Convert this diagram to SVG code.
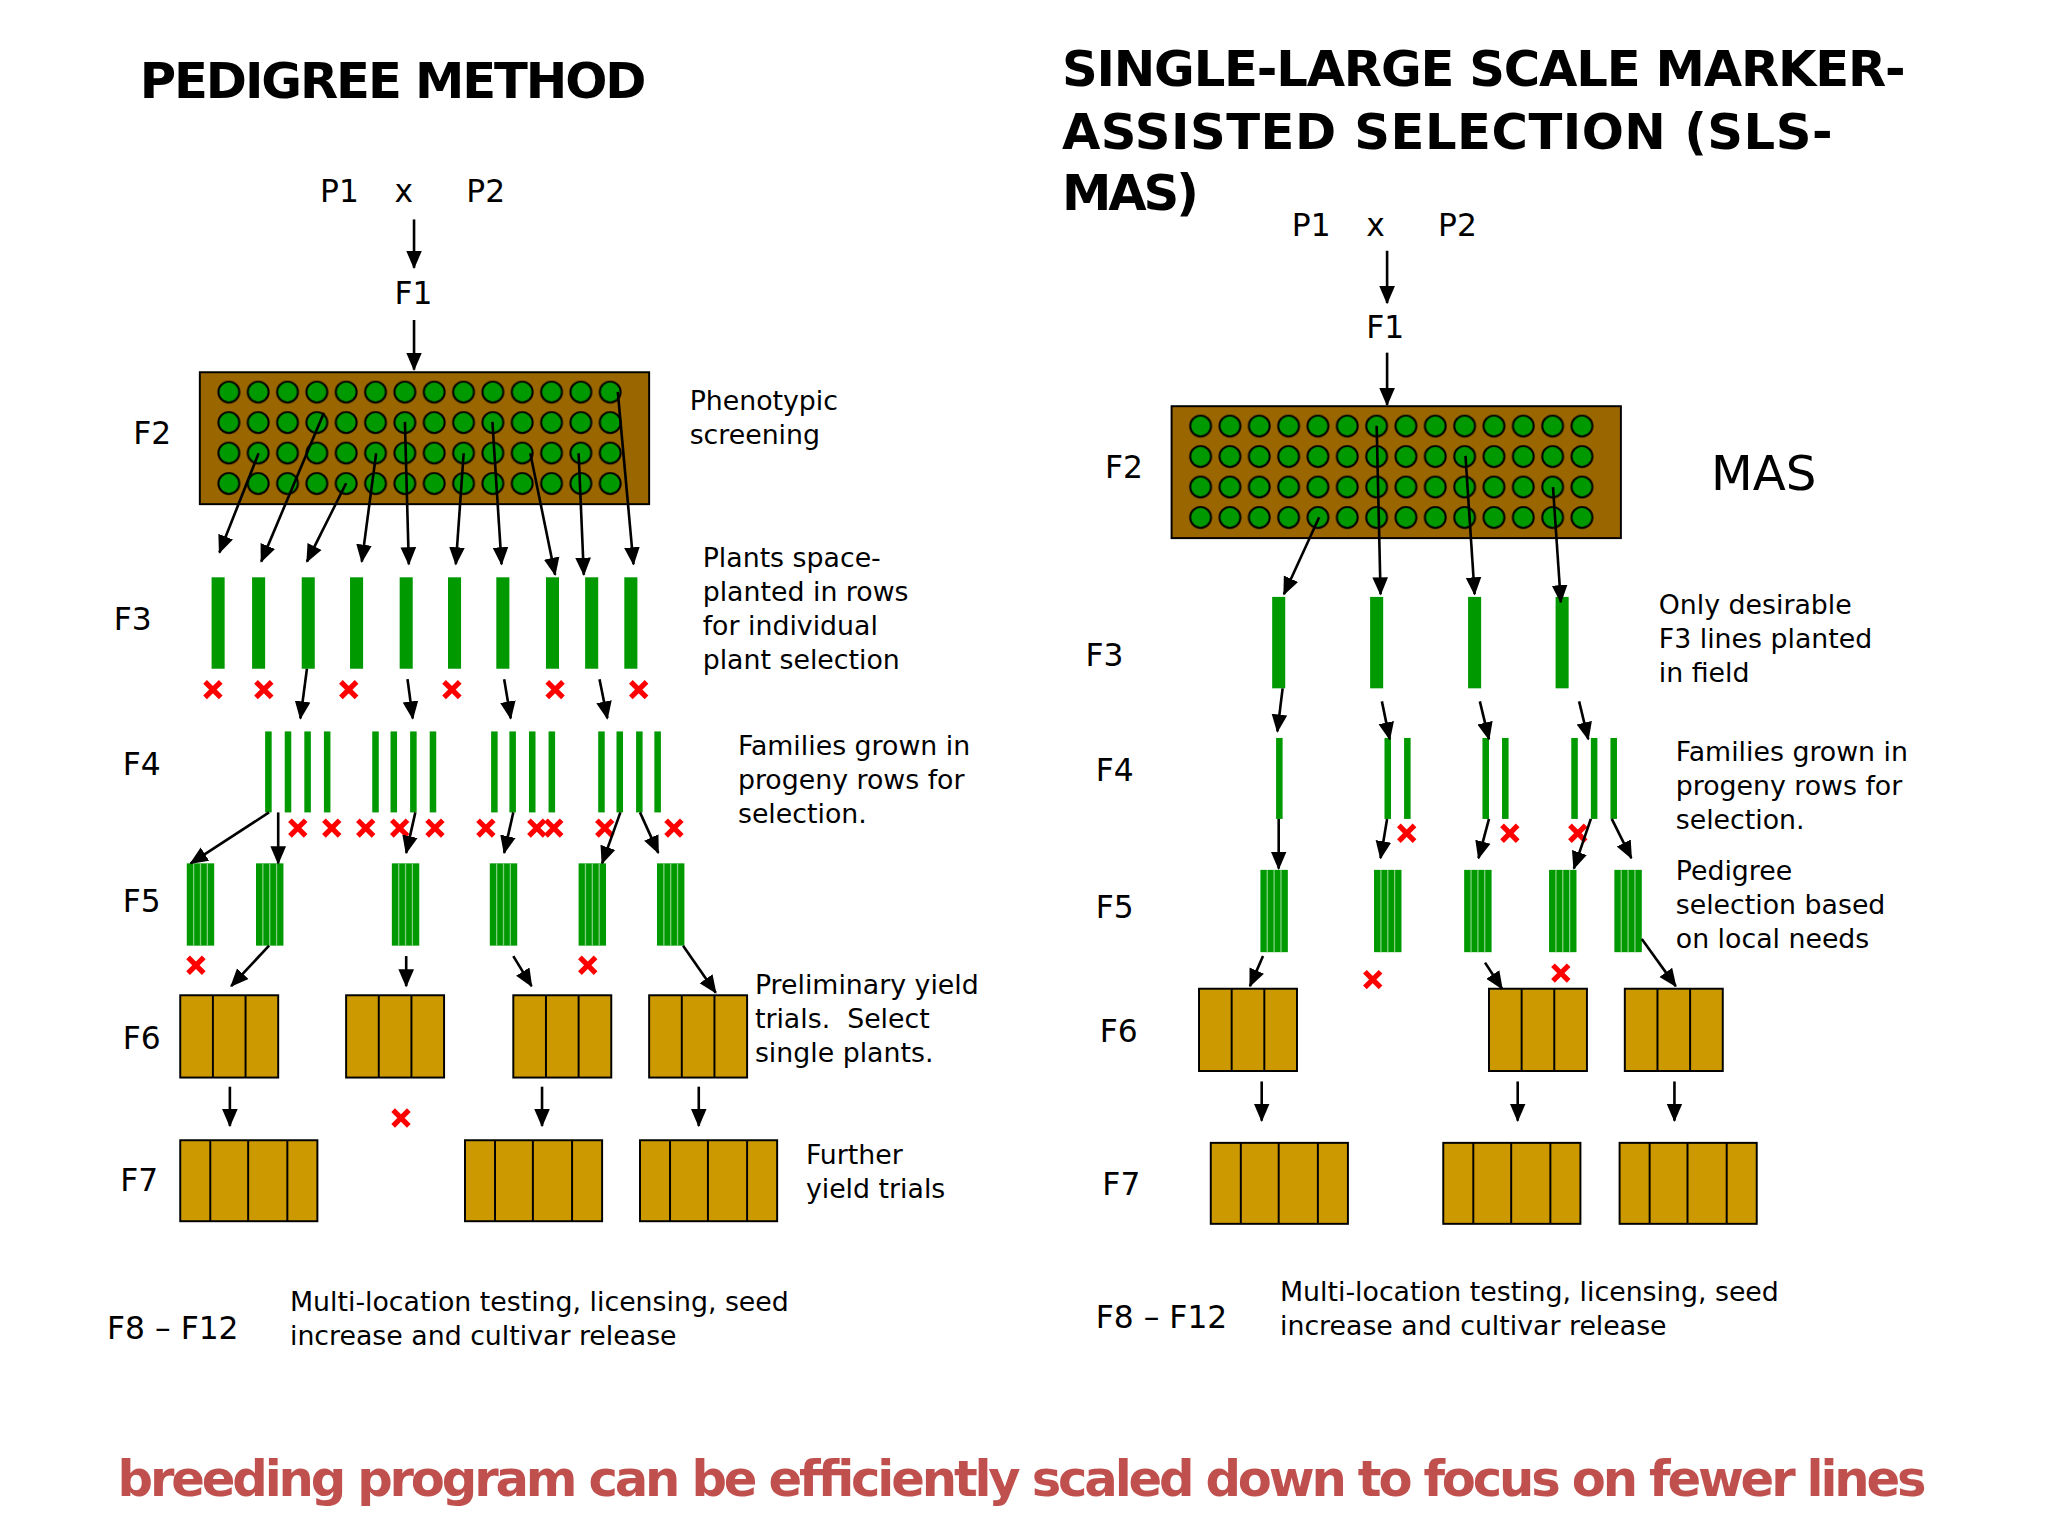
<svg xmlns="http://www.w3.org/2000/svg" width="2048" height="1536" viewBox="0 0 2048 1536">
<style>
text{font-family:"DejaVu Sans","Liberation Sans",sans-serif;fill:#000}
.t{font-size:38px;font-weight:bold}
.g{font-size:24px}
.d{font-size:20.5px}
.a{stroke:#000;stroke-width:2;fill:none;marker-end:url(#ah)}
.bar{fill:#009900}
</style>
<defs>
<marker id="ah" markerUnits="userSpaceOnUse" markerWidth="14" markerHeight="14" refX="13" refY="7" orient="auto"><path d="M0,1 L14,7 L0,13 Z" fill="#000"/></marker>
<pattern id="dotsL" patternUnits="userSpaceOnUse" x="164" y="288.5" width="22.46" height="23.33"><circle cx="11.23" cy="11.67" r="8" fill="#009900" stroke="#000" stroke-width="1.5"/></pattern>
<pattern id="dotsR" patternUnits="userSpaceOnUse" x="908" y="314.5" width="22.46" height="23.33"><circle cx="11.23" cy="11.67" r="8" fill="#009900" stroke="#000" stroke-width="1.5"/></pattern>
<g id="x"><path d="M-6,-6 L6,6 M-6,6 L6,-6" stroke="#ff0000" stroke-width="4"/></g>
<g id="f5"><rect width="21" height="63" fill="#009900"/><path d="M5.25,0V63M10.5,0V63M15.75,0V63" stroke="#7fcf7f" stroke-width="1"/></g>
<g id="f6"><rect width="75" height="63" fill="#CC9900" stroke="#000" stroke-width="1.5"/><path d="M25,0V63M50,0V63" stroke="#000" stroke-width="1.5"/></g>
<g id="f7"><rect width="105" height="62" fill="#CC9900" stroke="#000" stroke-width="1.5"/><path d="M23,0V62M52,0V62M82,0V62" stroke="#000" stroke-width="1.5"/></g>
</defs>
<rect width="2048" height="1536" fill="#fff"/>
<g transform="scale(1.30612)">
<!-- LEFT -->
<g id="left-title"><text class="t" x="107" y="75" textLength="388">PEDIGREE METHOD</text></g>
<g id="left-parents" class="g"><text x="245" y="155">P1</text><text x="302" y="155">x</text><text x="357" y="155">P2</text><text x="302" y="233">F1</text></g>
<g id="left-gen" class="g"><text x="102" y="340">F2</text><text x="87" y="482">F3</text><text x="94" y="593">F4</text><text x="94" y="698">F5</text><text x="94" y="803">F6</text><text x="92" y="912">F7</text><text x="82" y="1025">F8 – F12</text></g>
<g id="left-f2"><rect x="153" y="285" width="344" height="101" fill="#996600" stroke="#000" stroke-width="1.5"/><rect x="164" y="288.5" width="315" height="93.5" fill="url(#dotsL)"/></g>
<g id="left-f3">
<rect class="bar" x="162" y="442" width="10" height="70"/><rect class="bar" x="193" y="442" width="10" height="70"/><rect class="bar" x="231" y="442" width="10" height="70"/><rect class="bar" x="268" y="442" width="10" height="70"/><rect class="bar" x="306" y="442" width="10" height="70"/><rect class="bar" x="343" y="442" width="10" height="70"/><rect class="bar" x="380" y="442" width="10" height="70"/><rect class="bar" x="418" y="442" width="10" height="70"/><rect class="bar" x="448" y="442" width="10" height="70"/><rect class="bar" x="478" y="442" width="10" height="70"/>
<use href="#x" x="163" y="528"/><use href="#x" x="202" y="528"/><use href="#x" x="267" y="528"/><use href="#x" x="346" y="528"/><use href="#x" x="425" y="528"/><use href="#x" x="489" y="528"/>
</g>
<g id="left-f4">
<rect class="bar" x="203" y="560" width="5" height="62"/><rect class="bar" x="218" y="560" width="5" height="62"/><rect class="bar" x="233" y="560" width="5" height="62"/><rect class="bar" x="248" y="560" width="5" height="62"/>
<rect class="bar" x="285" y="560" width="5" height="62"/><rect class="bar" x="299" y="560" width="5" height="62"/><rect class="bar" x="314" y="560" width="5" height="62"/><rect class="bar" x="329" y="560" width="5" height="62"/>
<rect class="bar" x="376" y="560" width="5" height="62"/><rect class="bar" x="390" y="560" width="5" height="62"/><rect class="bar" x="405" y="560" width="5" height="62"/><rect class="bar" x="420" y="560" width="5" height="62"/>
<rect class="bar" x="458" y="560" width="5" height="62"/><rect class="bar" x="472" y="560" width="5" height="62"/><rect class="bar" x="487" y="560" width="5" height="62"/><rect class="bar" x="501" y="560" width="5" height="62"/>
<use href="#x" x="228" y="634"/><use href="#x" x="254" y="634"/><use href="#x" x="280" y="634"/><use href="#x" x="306" y="634"/><use href="#x" x="333" y="634"/><use href="#x" x="372" y="634"/><use href="#x" x="411" y="634"/><use href="#x" x="424" y="634"/><use href="#x" x="463" y="634"/><use href="#x" x="516" y="634"/>
</g>
<g id="left-f5"><use href="#f5" x="143" y="661"/><use href="#f5" x="196" y="661"/><use href="#f5" x="300" y="661"/><use href="#f5" x="375" y="661"/><use href="#f5" x="443" y="661"/><use href="#f5" x="503" y="661"/><use href="#x" x="150" y="739"/><use href="#x" x="450" y="739"/></g>
<g id="left-f6"><use href="#f6" x="138" y="762"/><use href="#f6" x="265" y="762"/><use href="#f6" x="393" y="762"/><use href="#f6" x="497" y="762"/><use href="#x" x="307" y="856"/></g>
<g id="left-f7"><use href="#f7" x="138" y="873"/><use href="#f7" x="356" y="873"/><use href="#f7" x="490" y="873"/></g>
<g id="left-notes" class="d">
<text x="528" y="314">Phenotypic</text><text x="528" y="340">screening</text>
<text x="538" y="434">Plants space-</text><text x="538" y="460">planted in rows</text><text x="538" y="486">for individual</text><text x="538" y="512">plant selection</text>
<text x="565" y="578">Families grown in</text><text x="565" y="604">progeny rows for</text><text x="565" y="630">selection.</text>
<text x="578" y="761">Preliminary yield</text><text x="578" y="787" xml:space="preserve">trials.  Select</text><text x="578" y="813">single plants.</text>
<text x="617" y="891">Further</text><text x="617" y="917">yield trials</text>
<text x="222" y="1004">Multi-location testing, licensing, seed</text><text x="222" y="1030">increase and cultivar release</text>
</g>
<!-- RIGHT -->
<g id="right-title" class="t"><text x="813" y="66" textLength="646">SINGLE-LARGE SCALE MARKER-</text><text x="813" y="114" textLength="590">ASSISTED SELECTION (SLS-</text><text x="813" y="161" textLength="105">MAS)</text></g>
<g id="right-parents" class="g"><text x="989" y="181">P1</text><text x="1046" y="181">x</text><text x="1101" y="181">P2</text><text x="1046" y="259">F1</text></g>
<g id="right-gen" class="g"><text x="846" y="366">F2</text><text x="831" y="510">F3</text><text x="839" y="598">F4</text><text x="839" y="703">F5</text><text x="842" y="798">F6</text><text x="844" y="915">F7</text><text x="839" y="1017">F8 – F12</text></g>
<g id="right-f2"><rect x="897" y="311" width="344" height="101" fill="#996600" stroke="#000" stroke-width="1.5"/><rect x="908" y="314.5" width="315" height="93.5" fill="url(#dotsR)"/><text x="1310" y="375" style="font-size:37px">MAS</text></g>
<g id="right-f3"><rect class="bar" x="974" y="457" width="10" height="70"/><rect class="bar" x="1049" y="457" width="10" height="70"/><rect class="bar" x="1124" y="457" width="10" height="70"/><rect class="bar" x="1191" y="457" width="10" height="70"/></g>
<g id="right-f4">
<rect class="bar" x="977" y="565" width="5" height="62"/>
<rect class="bar" x="1060" y="565" width="5" height="62"/><rect class="bar" x="1075" y="565" width="5" height="62"/>
<rect class="bar" x="1135" y="565" width="5" height="62"/><rect class="bar" x="1150" y="565" width="5" height="62"/>
<rect class="bar" x="1203" y="565" width="5" height="62"/><rect class="bar" x="1218" y="565" width="5" height="62"/><rect class="bar" x="1233" y="565" width="5" height="62"/>
<use href="#x" x="1077" y="638"/><use href="#x" x="1156" y="638"/><use href="#x" x="1208" y="638"/>
</g>
<g id="right-f5"><use href="#f5" x="965" y="666"/><use href="#f5" x="1052" y="666"/><use href="#f5" x="1121" y="666"/><use href="#f5" x="1186" y="666"/><use href="#f5" x="1236" y="666"/><use href="#x" x="1051" y="750"/><use href="#x" x="1195" y="745"/></g>
<g id="right-f6"><use href="#f6" x="918" y="757"/><use href="#f6" x="1140" y="757"/><use href="#f6" x="1244" y="757"/></g>
<g id="right-f7"><use href="#f7" x="927" y="875"/><use href="#f7" x="1105" y="875"/><use href="#f7" x="1240" y="875"/></g>
<g id="right-notes" class="d">
<text x="1270" y="470">Only desirable</text><text x="1270" y="496">F3 lines planted</text><text x="1270" y="522">in field</text>
<text x="1283" y="583">Families grown in</text><text x="1283" y="609">progeny rows for</text><text x="1283" y="635">selection.</text>
<text x="1283" y="674">Pedigree</text><text x="1283" y="700">selection based</text><text x="1283" y="726">on local needs</text>
<text x="980" y="996">Multi-location testing, licensing, seed</text><text x="980" y="1022">increase and cultivar release</text>
</g>
<g id="footer"><text x="90" y="1145" textLength="1385" style="font-size:38px;font-weight:bold;fill:#C0504D">breeding program can be efficiently scaled down to focus on fewer lines</text></g>
<!-- CONNECTORS -->
<g id="connectors">
<path class="a" d="M317,168L317,205"/><path class="a" d="M317,245L317,283"/>
<path class="a" d="M198,347L168,423"/><path class="a" d="M248,316L200,430"/><path class="a" d="M265,370L235,430"/><path class="a" d="M288,347L277,430"/><path class="a" d="M310,323L313,432"/><path class="a" d="M355,347L349,432"/><path class="a" d="M377,323L384,432"/><path class="a" d="M406,347L425,440"/><path class="a" d="M443,347L447,440"/><path class="a" d="M473,300L485,432"/>
<path class="a" d="M235,512L230,550"/><path class="a" d="M312,520L316,550"/><path class="a" d="M386,520L391,550"/><path class="a" d="M459,520L465,550"/>
<path class="a" d="M206,622L146,661"/><path class="a" d="M213,622L213,661"/><path class="a" d="M318,622L311,653"/><path class="a" d="M393,622L386,653"/><path class="a" d="M475,622L461,661"/><path class="a" d="M490,622L504,653"/>
<path class="a" d="M206,724L177,755"/><path class="a" d="M311,732L311,755"/><path class="a" d="M393,732L407,755"/><path class="a" d="M523,724L548,760"/>
<path class="a" d="M176,832L176,862"/><path class="a" d="M415,832L415,862"/><path class="a" d="M535,832L535,862"/>
<path class="a" d="M1062,192L1062,232"/><path class="a" d="M1062,270L1062,310"/>
<path class="a" d="M1010,396L983,455"/><path class="a" d="M1054,326L1057,455"/><path class="a" d="M1122,349L1129,455"/><path class="a" d="M1189,373L1195,461"/>
<path class="a" d="M982,527L978,560"/><path class="a" d="M1058,537L1064,566"/><path class="a" d="M1133,537L1140,566"/><path class="a" d="M1209,537L1216,566"/>
<path class="a" d="M979,627L979,665"/><path class="a" d="M1062,627L1057,657"/><path class="a" d="M1140,627L1132,657"/><path class="a" d="M1218,627L1205,665"/><path class="a" d="M1234,627L1249,657"/>
<path class="a" d="M967,732L957,755"/><path class="a" d="M1137,737L1150,757"/><path class="a" d="M1257,719L1283,755"/>
<path class="a" d="M966,828L966,858"/><path class="a" d="M1162,828L1162,858"/><path class="a" d="M1282,828L1282,858"/>
</g>
</g>
</svg>
